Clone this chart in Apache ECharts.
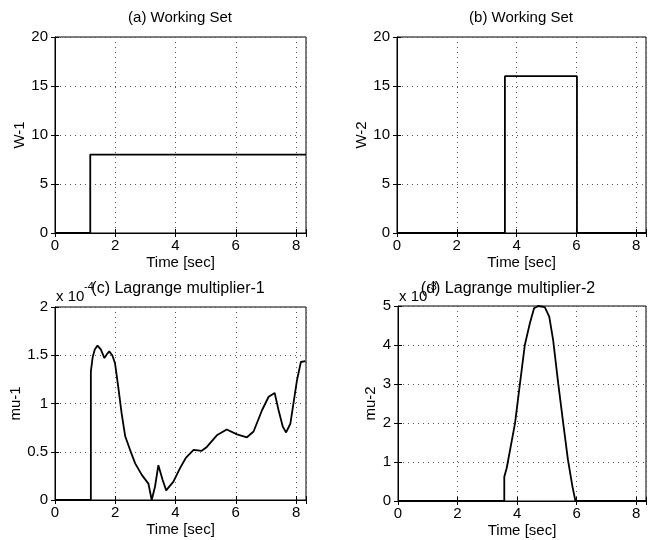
<!DOCTYPE html>
<html>
<head>
<meta charset="utf-8">
<script src="https://cdn.jsdelivr.net/npm/echarts@6/dist/echarts.min.js"></script>
<style>html,body{margin:0;padding:0;background:#fff}#c{width:653px;height:540px}</style>
</head>
<body>
<div id="c"></div>
<script>
// ---- data ----
var xTicks = [0, 2, 4, 6, 8];
var tA = [0, 1.17, 1.17, 8.33];
var wA = [0, 0, 8, 8];
var tB = [0, 3.61, 3.61, 6.02, 6.02, 8.33];
var wB = [0, 0, 16, 16, 0, 0];
var tC = [0, 1.19, 1.19, 1.25, 1.32, 1.41, 1.52, 1.64, 1.72, 1.80, 1.90, 1.99, 2.10, 2.21, 2.33, 2.49, 2.66, 2.88, 3.10, 3.21, 3.32, 3.43, 3.57, 3.69, 3.93, 4.15, 4.35, 4.60, 4.87, 5.04, 5.37, 5.70, 6.04, 6.37, 6.59, 6.87, 7.09, 7.29, 7.42, 7.56, 7.67, 7.81, 8.03, 8.16, 8.31];
var muC = [0, 0, 1.33, 1.48, 1.56, 1.60, 1.56, 1.47, 1.51, 1.54, 1.50, 1.42, 1.17, 0.90, 0.66, 0.52, 0.38, 0.26, 0.17, 0.00, 0.14, 0.36, 0.21, 0.10, 0.19, 0.33, 0.44, 0.52, 0.51, 0.55, 0.67, 0.73, 0.68, 0.65, 0.71, 0.93, 1.07, 1.11, 0.93, 0.76, 0.70, 0.79, 1.24, 1.43, 1.44];
var tD = [0, 3.57, 3.57, 3.65, 3.93, 4.09, 4.26, 4.43, 4.57, 4.71, 4.93, 5.08, 5.21, 5.38, 5.55, 5.71, 5.86, 5.96, 8.33];
var muD = [0, 0, 0.62, 0.84, 1.99, 2.97, 4.00, 4.56, 4.94, 5.00, 4.97, 4.73, 4.13, 3.02, 1.99, 1.05, 0.37, 0, 0];
var titles = ['(a) Working Set', '(b) Working Set', '(c) Lagrange multiplier-1', '(d) Lagrange multiplier-2'];
var yNames = ['W-1', 'W-2', 'mu-1', 'mu-2'];
var xName = 'Time [sec]';
var yMax = [20, 20, 2, 5];
var yStep = [5, 5, 0.5, 1];
var expText = ['-4', '-3'];

function zip(a, b) { return a.map(function (v, i) { return [v, b[i]]; }); }

var FONT = 'Liberation Sans, Arial, Helvetica, sans-serif';
var grids = [
  {left: 55, top: 37, width: 251, height: 196},
  {left: 397, top: 37, width: 249, height: 196},
  {left: 55, top: 307, width: 251, height: 193},
  {left: 398, top: 306, width: 248, height: 195}
];
var yGap = [22, 22, 30, 12];
var dotted = {show: true, lineStyle: {color: '#555', type: [1, 4], width: 1}};
var tickStyle = {show: true, inside: true, length: 4, lineStyle: {color: '#000'}};

var xAxes = [], yAxes = [];
grids.forEach(function (g, i) {
  xAxes.push({
    type: 'value', gridIndex: i, min: 0, max: 8.33, interval: 2,
    name: xName, nameLocation: 'middle', nameGap: 22,
    nameTextStyle: {fontFamily: FONT, fontSize: 15, color: '#000'},
    axisLine: {show: true, lineStyle: {color: '#000', width: 1}},
    axisTick: tickStyle,
    axisLabel: {fontFamily: FONT, fontSize: 15, color: '#000', margin: 5,
      formatter: function (v) { return xTicks.indexOf(Math.round(v * 100) / 100) >= 0 ? String(v) : ''; }},
    splitLine: dotted
  });
  yAxes.push({
    type: 'value', gridIndex: i, min: 0, max: yMax[i], interval: yStep[i],
    name: yNames[i], nameLocation: 'middle', nameGap: yGap[i], nameRotate: 90,
    nameTextStyle: {fontFamily: FONT, fontSize: 15, color: '#000'},
    axisLine: {show: true, lineStyle: {color: '#000', width: 1}},
    axisTick: tickStyle,
    axisLabel: {fontFamily: FONT, fontSize: 15, color: '#000', margin: 7},
    splitLine: dotted
  });
});
// mirrored tick axes (top / right), like MATLAB box ticks
grids.forEach(function (g, i) {
  xAxes.push({type: 'value', gridIndex: i, position: 'top', min: 0, max: 8.33, interval: 2,
    axisLine: {show: false}, axisTick: tickStyle, axisLabel: {show: false}, splitLine: {show: false}});
  yAxes.push({type: 'value', gridIndex: i, position: 'right', min: 0, max: yMax[i], interval: yStep[i],
    axisLine: {show: false}, axisTick: tickStyle, axisLabel: {show: false}, splitLine: {show: false}});
});

var option = {
  backgroundColor: '#fff',
  animation: false,
  grid: grids.map(function (g) { return Object.assign({show: true, borderColor: '#000', borderWidth: 1, backgroundColor: 'transparent'}, g); }),
  xAxis: xAxes,
  yAxis: yAxes,
  series: [zip(tA, wA), zip(tB, wB), zip(tC, muC), zip(tD, muD)].map(function (d, i) {
    return {type: 'line', xAxisIndex: i, yAxisIndex: i, data: d, showSymbol: false, symbol: 'none',
      lineStyle: {color: '#000', width: 1.8}, z: 5};
  }),
  graphic: [
    {type: 'text', x: 180, y: 18, style: {text: titles[0], font: '15px ' + FONT, fill: '#000', align: 'center', verticalAlign: 'middle'}},
    {type: 'text', x: 521, y: 18, style: {text: titles[1], font: '15px ' + FONT, fill: '#000', align: 'center', verticalAlign: 'middle'}},
    {type: 'text', x: 56, y: 297, style: {text: 'x 10', font: '15px ' + FONT, fill: '#000', align: 'left', verticalAlign: 'middle'}},
    {type: 'text', x: 84, y: 287, style: {text: expText[0], font: '11px ' + FONT, fill: '#000', align: 'left', verticalAlign: 'middle'}},
    {type: 'text', x: 178, y: 289, style: {text: titles[2], font: '16px ' + FONT, fill: '#000', align: 'center', verticalAlign: 'middle'}},
    {type: 'text', x: 399, y: 297, style: {text: 'x 10', font: '15px ' + FONT, fill: '#000', align: 'left', verticalAlign: 'middle'}},
    {type: 'text', x: 427, y: 287, style: {text: expText[1], font: '11px ' + FONT, fill: '#000', align: 'left', verticalAlign: 'middle'}},
    {type: 'text', x: 508, y: 289, style: {text: titles[3], font: '16px ' + FONT, fill: '#000', align: 'center', verticalAlign: 'middle'}}
  ]
};
var chart = echarts.init(document.getElementById('c'), null, {renderer: 'canvas'});
chart.setOption(option);
</script>
</body>
</html>
